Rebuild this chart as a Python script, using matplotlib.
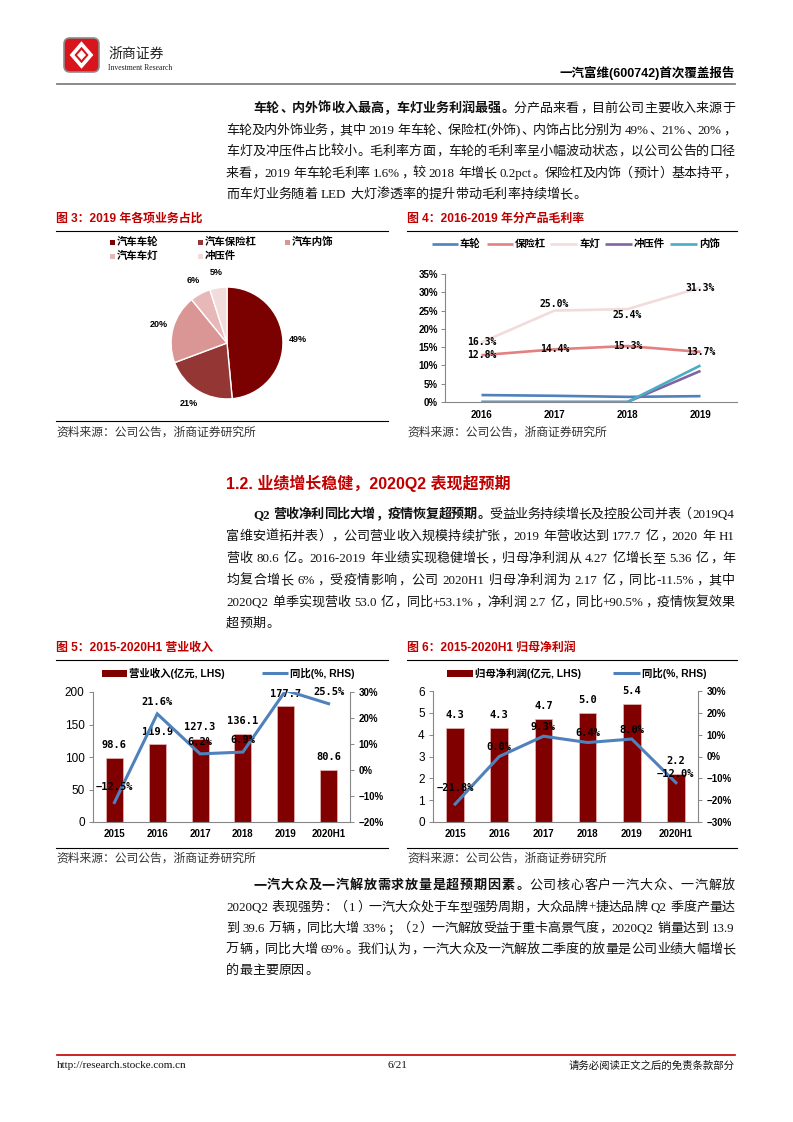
import re
import numpy as np
import matplotlib
matplotlib.use('Agg')
import matplotlib.pyplot as plt
from matplotlib.patches import Rectangle, FancyBboxPatch, Polygon
from matplotlib.ticker import FuncFormatter

# ---------- Data ------------------------------------------------------------------------------------------------------

pie_names = ['汽车车轮', '汽车保险杠', '汽车内饰', '汽车车灯', '冲压件']
pie_share = [49, 21, 20, 6, 5]
pie_colors = ['#7B0000', '#943634', '#D99694', '#E6B9B8', '#F2DCDB']

gm_years = ['2016', '2017', '2018', '2019']
gm_names = ['车轮', '保险杠', '车灯', '冲压件', '内饰']
gm_wheel = [1.9, 1.7, 1.4, 1.6]
gm_bumper = [12.8, 14.4, 15.3, 13.7]
gm_lamp = [16.3, 25.0, 25.4, 31.3]
gm_stamp = [0.0, 0.0, 0.0, 8.5]
gm_interior = [0.0, 0.0, 0.0, 10.0]
gm_colors = ['#4F81BD', '#E38180', '#F2DCDB', '#8064A2', '#4BACC6']

fin_years = ['2015', '2016', '2017', '2018', '2019', '2020H1']
revenue = [98.6, 119.9, 127.3, 136.1, 177.7, 80.6]
revenue_yoy = [-12.5, 21.6, 6.2, 6.9, 30.6, 25.5]
revenue_yoy_text = ['-12.5%', '21.6%', '6.2%', '6.9%', '', '25.5%']
profit = [4.3, 4.3, 4.7, 5.0, 5.4, 2.2]
profit_yoy = [-21.8, 0.0, 9.3, 6.4, 8.0, -12.0]

BAR_RED = '#800000'
LINE_BLUE = '#4F81BD'
RED = '#C00000'
TXT = '#111111'

SANS = ['Liberation Sans', 'Noto Sans CJK SC']
SERIF = ['Liberation Serif', 'Noto Sans CJK SC']
MONO = ['DejaVu Sans Mono']

# ---------- Page ------------------------------------------------------------------------------------------------------

W, H = 793, 1122
fig = plt.figure(figsize=(W / 100, H / 100), dpi=100)
page = fig.add_axes([0, 0, 1, 1])
page.set_xlim(0, W)
page.set_ylim(H, 0)
page.axis('off')
renderer = fig.canvas.get_renderer()


def rect(x0, y0, x1, y1):                   # pixel box -> figure fraction
    return [x0 / W, 1 - y1 / H, (x1 - x0) / W, (y1 - y0) / H]


# ---------- Body text with justified lines ----------------------------------------------------------------------------

EM = 13.05
FS = EM * 0.72
LEFT_PUNCT = set('，。、；：）')
RIGHT_PUNCT = set('（')


def split_tokens(s):
    return re.findall(r'[!-~]+| |[^\x00-\x7f]', s)


def tok_w(tok, bold):
    if tok == ' ':
        return 0.28 * EM
    if ord(tok[0]) > 127:
        return EM
    t = page.text(0, 0, tok, fontsize=FS, family=SERIF, weight='bold' if bold else 'normal')
    w = t.get_window_extent(renderer=renderer).width
    t.remove()
    return w + 0.5


def draw_line(segs, x0, y, x1=735, justify=True):
    toks = [(t, b) for s, b in segs for t in split_tokens(s)]
    ws = [tok_w(t, b) for t, b in toks]
    gap = (x1 - x0 - sum(ws)) / (len(toks) - 1) if justify else 0.0
    x = x0
    yb = y + 4.8
    for (t, b), w in zip(toks, ws):
        kw = dict(fontsize=FS, family=SERIF, weight='bold' if b else 'normal', color=TXT, va='baseline')
        if t == ' ':
            pass
        elif ord(t[0]) > 127:
            if t in LEFT_PUNCT:
                page.text(x + 0.08 * EM, yb, t, ha='left', **kw)
            elif t in RIGHT_PUNCT:
                page.text(x + 0.92 * EM, yb, t, ha='right', **kw)
            else:
                page.text(x + EM / 2, yb, t, ha='center', **kw)
        else:
            page.text(x, yb, t, ha='left', **kw)
        x += w + gap


def paragraph(lines, ys):
    for i, (segs, y) in enumerate(zip(lines, ys)):
        last = i == len(lines) - 1
        draw_line(segs, 253 if i == 0 else 226, y, justify=not last)


P1 = [
    [('车轮、内外饰收入最高，车灯业务利润最强。', True), ('分产品来看，目前公司主要收入来源于', False)],
    [('车轮及内外饰业务，其中 2019 年车轮、保险杠(外饰)、内饰占比分别为 49%、21%、20%，', False)],
    [('车灯及冲压件占比较小。毛利率方面，车轮的毛利率呈小幅波动状态，以公司公告的口径', False)],
    [('来看，2019 年车轮毛利率 1.6%，较 2018 年增长 0.2pct。保险杠及内饰（预计）基本持平，', False)],
    [('而车灯业务随着 LED 大灯渗透率的提升带动毛利率持续增长。', False)],
]
P2 = [
    [('Q2 营收净利同比大增，疫情恢复超预期。', True), ('受益业务持续增长及控股公司并表（2019Q4', False)],
    [('富维安道拓并表），公司营业收入规模持续扩张，2019 年营收达到 177.7 亿，2020 年 H1', False)],
    [('营收 80.6 亿。2016-2019 年业绩实现稳健增长，归母净利润从 4.27 亿增长至 5.36 亿，年', False)],
    [('均复合增长 6%，受疫情影响，公司 2020H1 归母净利润为 2.17 亿，同比-11.5%，其中', False)],
    [('2020Q2 单季实现营收 53.0 亿，同比+53.1%，净利润 2.7 亿，同比+90.5%，疫情恢复效果', False)],
    [('超预期。', False)],
]
P3 = [
    [('一汽大众及一汽解放需求放量是超预期因素。', True), ('公司核心客户一汽大众、一汽解放', False)],
    [('2020Q2 表现强势：（1）一汽大众处于车型强势周期，大众品牌+捷达品牌 Q2 季度产量达', False)],
    [('到 39.6 万辆，同比大增 33%；（2）一汽解放受益于重卡高景气度，2020Q2 销量达到 13.9', False)],
    [('万辆，同比大增 69%。我们认为，一汽大众及一汽解放二季度的放量是公司业绩大幅增长', False)],
    [('的最主要原因。', False)],
]

paragraph(P1, [107, 129, 150, 172, 193])
paragraph(P2, [513, 535, 557, 579, 601, 622])
paragraph(P3, [884, 906, 927, 948, 969])

page.text(226, 483, '1.2. 业绩增长稳健，2020Q2 表现超预期', fontsize=11.5, family=SANS,
          weight='bold', color=RED, ha='left', va='center')

# ---------- Header / footer -------------------------------------------------------------------------------------------

page.add_patch(FancyBboxPatch((64, 38), 35, 34, boxstyle='round,pad=0,rounding_size=6',
                              fc='#D8141C', ec='#8C8C8C', lw=1.2, zorder=2))
page.add_patch(Polygon([[81.5, 44], [91, 55], [81.5, 66], [72, 55]], closed=True,
                       fill=False, ec='white', lw=2.6, zorder=3))
page.add_patch(Polygon([[81.5, 50], [86, 55], [81.5, 60], [77, 55]], closed=True,
                       fc='white', ec='none', zorder=3))
page.text(108, 54, '浙商证券', fontsize=10, family=['Noto Sans CJK SC'], color='#222222', ha='left', va='center')
page.text(108, 68, 'Investment Research', fontsize=5.6, family=['Liberation Serif'], color='#222222',
          ha='left', va='center')
page.text(735, 73, '一汽富维(600742)首次覆盖报告', fontsize=9, family=SANS, weight='bold',
          color='black', ha='right', va='center')
page.plot([57, 735], [84, 84], color='#808080', lw=1.3)

page.plot([57, 735], [1055, 1055], color=RED, lw=1.2)
page.text(57, 1066, 'http://research.stocke.com.cn', fontsize=8, family=['Liberation Serif'],
          color=TXT, ha='left', va='center')
page.text(397, 1066, '6/21', fontsize=8, family=['Liberation Serif'], color=TXT, ha='center', va='center')
page.text(735, 1066, '请务必阅读正文之后的免责条款部分', fontsize=7.5, family=SERIF, color=TXT,
          ha='right', va='center')


# ---------- Chart frames ----------------------------------------------------------------------------------------------

def frame(x0, x1, y_title, title, y_bottom=None, y_source=None):
    page.text(x0, y_title, title, fontsize=8.6, family=SANS, weight='bold', color=RED, ha='left', va='center')
    page.plot([x0, x1], [y_title + 12, y_title + 12], color='black', lw=0.8)
    if y_bottom is not None:
        page.plot([x0, x1], [y_bottom, y_bottom], color='black', lw=0.8)
    page.text(x0, y_source, '资料来源：公司公告，浙商证券研究所', fontsize=8.5, family=SERIF,
              color='#333333', ha='left', va='center')


frame(56, 388, 219, '图 3：2019 年各项业务占比', 421, 433)
frame(407, 737, 219, '图 4：2016-2019 年分产品毛利率', None, 433)
frame(56, 388, 648, '图 5：2015-2020H1 营业收入', 848, 859)
frame(407, 737, 648, '图 6：2015-2020H1 归母净利润', 848, 859)

LEG = dict(fontsize=7.5, family=SANS, weight='bold', color='black', va='center', ha='left')
pct = FuncFormatter(lambda v, _: f'{v:.0f}%'.replace('-', '\u2212'))

# ---------- Figure 3: pie ---------------------------------------------------------------------------------------------

leg_xy = [(110, 242), (198, 242), (285, 242), (110, 256), (198, 256)]
for (lx, ly), name, c in zip(leg_xy, pie_names, pie_colors):
    page.add_patch(Rectangle((lx, ly - 2.5), 5, 5, fc=c, ec='none'))
    page.text(lx + 7, ly, name, **LEG)

pax = fig.add_axes(rect(147, 263, 307, 423))
wedges, texts = pax.pie(pie_share, colors=pie_colors, startangle=90, counterclock=False,
                        labels=[f'{v}%' for v in pie_share], labeldistance=1.27,
                        wedgeprops=dict(edgecolor='white', linewidth=1.0),
                        textprops=dict(fontsize=6.5, fontweight='bold', family=SANS))
for t in texts:
    t.set_ha('center')
    t.set_va('center')
pax.set_xlim(-1.43, 1.43)
pax.set_ylim(-1.43, 1.43)
pax.set_aspect('equal')

# ---------- Figure 4: gross margin lines ------------------------------------------------------------------------------

gm_series = [gm_wheel, gm_bumper, gm_lamp, gm_stamp, gm_interior]
leg4 = [(432, 458), (487, 513), (550, 577), (605, 632), (670, 697)]
for (lx0, lx1), name, c in zip(leg4, gm_names, gm_colors):
    page.plot([lx0, lx1], [244, 244], color=c, lw=1.9, solid_capstyle='butt')
    page.text(lx1 + 2, 244, name, **LEG)

ax4 = fig.add_axes(rect(445, 274, 737, 402))
x4 = np.arange(len(gm_years)) + 0.5
for vals, c in zip(gm_series, gm_colors):
    ax4.plot(x4, vals, color=c, lw=1.9, solid_capstyle='butt')
ax4.set_xlim(0, 4)
ax4.set_ylim(0, 35)
ax4.set_yticks(np.arange(0, 36, 5))
ax4.yaxis.set_major_formatter(pct)
ax4.set_xticks(x4)
ax4.set_xticklabels(gm_years)
for s in ['top', 'right']:
    ax4.spines[s].set_visible(False)
for s in ['left', 'bottom']:
    ax4.spines[s].set_color('#868686')
ax4.tick_params(axis='y', length=3, width=0.7, color='#868686', pad=2)
ax4.tick_params(axis='x', length=0, pad=6)
for lab in ax4.get_xticklabels() + ax4.get_yticklabels():
    lab.set_fontsize(7)
    lab.set_fontweight('bold')
    lab.set_family(SANS)

lift4 = {(1, 2): 5, (2, 2): -4.5}          # (series, point) -> vertical nudge in points
for si in (1, 2):
    for pi, v in enumerate(gm_series[si]):
        ax4.annotate(f'{v:.1f}%', (x4[pi], v), xytext=(0, lift4.get((pi, si), 0)),
                     textcoords='offset points', ha='center', va='center',
                     fontsize=7, family=MONO, weight='bold')


# ---------- Figures 5 and 6: bars + yoy line --------------------------------------------------------------------------

def bar_line(box, bars, yoy, yoy_text, ylim, yticks, ylim2, yticks2, bar_lift, yoy_lift, low_extra):
    ax = fig.add_axes(rect(*box))
    axr = ax.twinx()
    x = np.arange(len(fin_years))
    ax.bar(x, bars, width=0.4, color=BAR_RED, edgecolor='#E6B9B8', linewidth=0.5)
    axr.plot(x, yoy, color=LINE_BLUE, lw=2.2, solid_joinstyle='miter')
    ax.set_xlim(-0.5, len(fin_years) - 0.5)
    ax.set_ylim(*ylim)
    ax.set_yticks(yticks)
    axr.set_ylim(*ylim2)
    axr.set_yticks(yticks2)
    axr.yaxis.set_major_formatter(pct)
    ax.set_xticks(x)
    ax.set_xticklabels(fin_years)
    ax.spines['top'].set_visible(False)
    ax.spines['right'].set_visible(False)
    for s in ['top', 'left', 'bottom']:
        axr.spines[s].set_visible(False)
    for s in ['left', 'bottom']:
        ax.spines[s].set_color('#868686')
    axr.spines['right'].set_color('#868686')
    ax.tick_params(axis='y', length=3, width=0.7, color='#868686', pad=3, labelsize=8.5)
    axr.tick_params(axis='y', length=3, width=0.7, color='#868686', pad=3)
    ax.tick_params(axis='x', length=0, pad=5)
    for lab in ax.get_yticklabels():
        lab.set_family(SANS)
    for lab in ax.get_xticklabels() + axr.get_yticklabels():
        lab.set_fontsize(7)
        lab.set_fontweight('bold')
        lab.set_family(SANS)
    for xi, v in zip(x, bars):
        ax.annotate(f'{v:.1f}', (xi, v), xytext=(0, bar_lift), textcoords='offset points',
                    ha='center', va='center', fontsize=7.5, family=MONO, weight='bold')
    lowest = min(yoy)
    for xi, v, s in zip(x, yoy, yoy_text):
        lift = yoy_lift + (low_extra if v == lowest else 0)
        axr.annotate(s.replace('-', '\u2212'), (xi, v), xytext=(0, lift), textcoords='offset points',
                     ha='center', va='center', fontsize=7.5, family=MONO, weight='bold')
    return ax, axr


page.add_patch(Rectangle((102, 670), 25, 7, fc=BAR_RED, ec='none'))
page.text(129, 673, '营业收入(亿元, LHS)', **LEG)
page.plot([262, 288], [673, 673], color=LINE_BLUE, lw=2.2, solid_capstyle='butt')
page.text(290, 673, '同比(%, RHS)', **LEG)

bar_line((93, 692, 350, 822), revenue, revenue_yoy, revenue_yoy_text,
         (0, 200), np.arange(0, 201, 50), (-20, 30), np.arange(-20, 31, 10), 9, 8.5, 2.5)

page.add_patch(Rectangle((447, 670), 26, 7, fc=BAR_RED, ec='none'))
page.text(475, 673, '归母净利润(亿元, LHS)', **LEG)
page.plot([613, 640], [673, 673], color=LINE_BLUE, lw=2.2, solid_capstyle='butt')
page.text(642, 673, '同比(%, RHS)', **LEG)

bar_line((433, 691, 698, 822), profit, profit_yoy, [f'{v:.1f}%' for v in profit_yoy],
         (0, 6), np.arange(0, 7, 1), (-30, 30), np.arange(-30, 31, 10), 9.5, 6.5, 5)

fig.savefig('out.png', dpi=100)
